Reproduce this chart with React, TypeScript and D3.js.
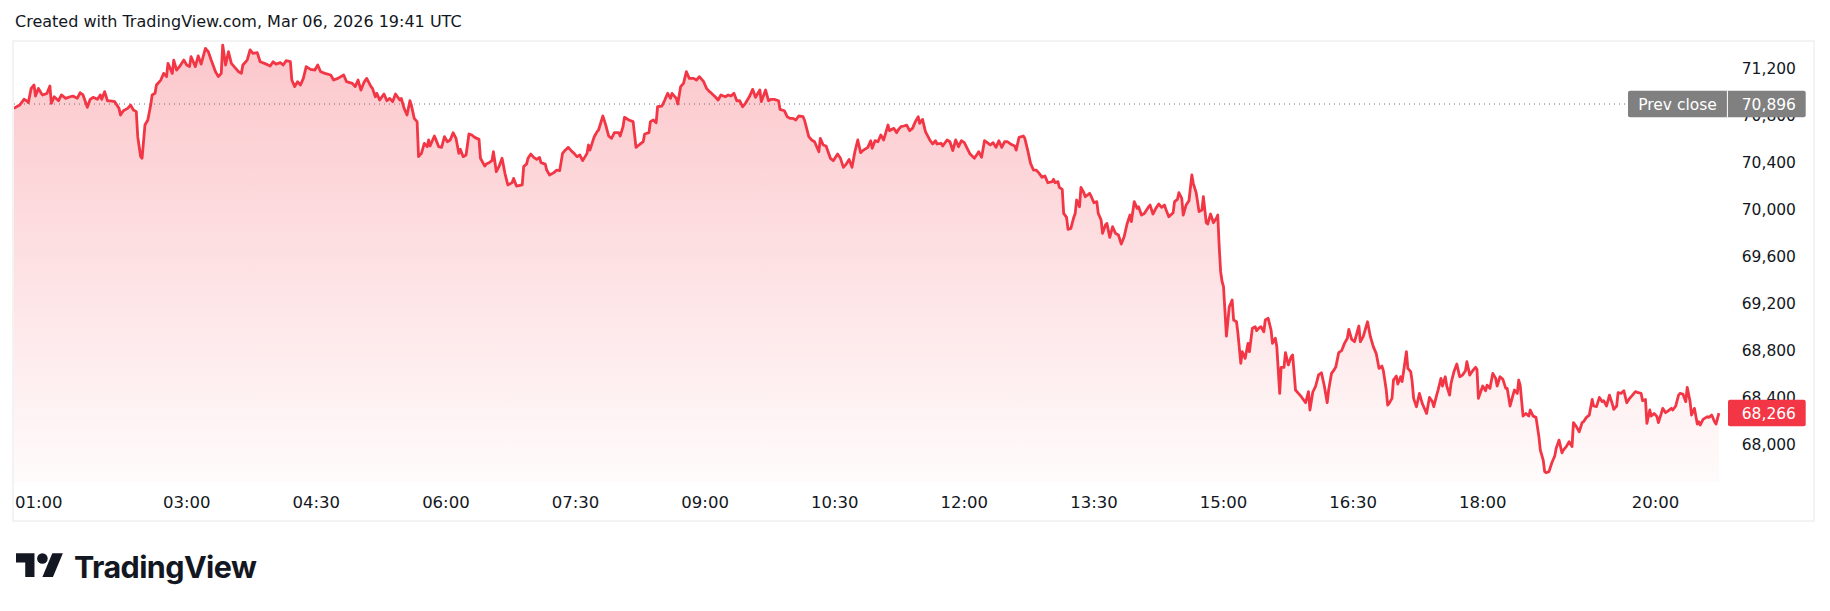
import React from "react";
import * as d3 from "d3";

// ---- data (minutes of day, price) ----
const minutes: number[] = [
  60,64,67,69,70,72,74,75,77,79,80,83,85,86,88,91,93,96,99,101,104,106,108,111,113,115,118,120,121,123,125,127,130,133,134,136,139,141,143,145,146,148,149,151,153,155,156,158,159,162,164,166,167,170,171,173,175,178,180,182,183,186,188,190,193,195,197,200,202,204,205,207,209,211,214,216,218,219,222,224,226,229,231,234,238,240,242,245,247,249,252,253,255,257,259,261,263,266,269,271,273,276,280,282,285,289,291,295,297,299,
  301,303,305,308,309,311,312,314,317,319,321,323,325,328,329,331,333,335,336,338,340,341,343,345,347,348,349,352,353,355,357,359,361,363,365,367,369,370,372,374,376,378,380,383,384,387,388,390,392,393,395,397,399,401,403,406,407,409,413,414,416,417,419,421,423,425,426,429,430,432,435,437,439,441,443,445,447,449,451,453,455,458,459,460,463,465,466,469,471,473,475,477,480,481,483,484,487,490,492,494,497,498,501,502,504,506,507,510,512,514,516,517,520,521,523,525,527,529,532,534,536,
  539,541,543,544,547,549,551,554,556,558,560,562,564,566,568,571,573,575,578,579,582,584,586,588,591,592,595,597,599,601,603,605,608,609,612,614,616,619,620,622,624,627,629,632,634,636,638,640,642,644,646,648,650,653,655,656,658,660,662,664,667,668,671,673,674,676,678,680,682,684,686,688,689,691,693,696,698,700,701,704,705,708,710,712,714,716,718,720,722,724,727,729,730,732,734,736,738,740,742,744,746,748,750,752,755,756,758,761,762,764,766,768,770,772,
  774,776,778,781,782,783,785,786,788,789,791,792,794,796,797,798,800,801,803,804,807,808,810,812,813,815,816,818,819,821,823,825,827,829,831,833,835,836,838,840,841,843,845,848,849,851,853,855,857,859,860,862,865,866,868,869,871,872,874,876,878,879,881,883,885,886,888,889,891,893,895,896,897,898,899,900,902,904,906,907,909,910,912,913,915,917,918,920,922,923,925,926,928,929,931,933,934,936,937,939,940,942,943,945,947,948,950,952,954,957,959,960,962,964,966,968,970,972,973,975,977,978,980,982,984,986,987,989,991,994,995,997,1000,1002,1004,1006,1008,
  1010,1011,1013,1014,1015,1017,1018,1020,1021,1023,1024,1025,1027,1028,1030,1031,1032,1034,1036,1038,1039,1041,1043,1045,1046,1048,1049,1051,1052,1054,1055,1057,1058,1060,1062,1064,1066,1068,1069,1071,1073,1075,1076,1077,1079,1080,1082,1083,1085,1087,1089,1090,1092,1094,1096,1097,1099,1101,1102,1104,1105,1106,1108,1110,1112,1113,1115,1117,1119,1120,1122,1123,1124,1126,1128,1130,1131,1133,1135,1136,1138,1140,1142,1143,1145,1147,1149,1150,1152,1154,1156,1157,1159,1161,1163,1164,1166,1168,1170,1171,1173,1174,1176,1178,1180,1182,1184,1186,1188,1190,1191,1193,1194,1196,1197,1199,1201,1202,1204,1205,1207,1209,1211,1212,1214,1216,1217,1219,1221,1222,1224,1225,1227,1229,1230,1231,1233,1236,1237,1239,1241,1242,1244,
];

const prices: number[] = [
  70859,70887,70936,70922,70907,71029,71058,70964,71029,70987,70973,70987,71049,70902,70958,70924,70973,70944,70958,70964,70944,70992,70973,70868,70936,70953,70936,70973,70936,71001,70924,70922,70916,70859,70802,70839,70859,70887,70845,70831,70618,70448,70434,70717,70760,70887,70973,70987,71058,71100,71157,71129,71242,71157,71270,71185,71214,71270,71228,71214,71299,71214,71305,71236,71370,71341,71270,71171,71129,71157,71398,71228,71341,71242,71200,71171,71157,71228,71270,71356,71327,71333,71256,71242,71219,71256,71236,71248,71228,71265,71256,71100,71044,71086,71058,71114,71214,71191,71185,71228,71171,71157,71143,71100,71114,71143,71086,71072,71044,71100,
  71015,71078,71114,71044,71029,70958,70987,70930,70981,70924,70944,70916,70981,70930,70944,70859,70802,70924,70887,70774,70746,70448,70476,70561,70533,70590,70539,70624,70595,70533,70527,70618,70575,70590,70652,70604,70476,70510,70448,70462,70641,70632,70612,70595,70434,70368,70385,70397,70414,70490,70320,70368,70434,70306,70207,70227,70263,70198,70207,70363,70385,70434,70470,70442,70425,70442,70397,70385,70334,70292,70312,70334,70329,70476,70505,70527,70499,70476,70448,70462,70414,70476,70547,70504,70618,70661,70675,70794,70717,70624,70604,70652,70652,70624,70703,70783,70760,70746,70527,70547,70575,70641,70652,70746,70760,70737,70873,70879,70930,70987,70944,70987,70944,70896,71044,71072,71171,71114,71114,71100,71129,
  71086,71029,71001,70992,70958,70930,70973,70958,70973,70964,70987,70924,70924,70873,70902,70964,71021,70953,71015,70916,71015,70924,70936,70936,70924,70851,70839,70788,70774,70774,70760,70794,70788,70760,70618,70590,70575,70490,70604,70547,70539,70434,70414,70470,70434,70357,70385,70425,70357,70490,70590,70482,70504,70527,70584,70519,70584,70575,70632,70590,70717,70669,70689,70652,70675,70703,70709,70717,70669,70689,70746,70788,70731,70765,70661,70590,70556,70584,70556,70561,70539,70590,70575,70499,70590,70533,70584,70567,70519,70470,70434,70470,70490,70442,70584,70567,70547,70567,70527,70584,70527,70575,70575,70556,70539,70504,70612,70624,70604,70504,70391,70334,70334,70306,
  70272,70283,70226,70235,70255,70226,70235,70187,70170,69965,69931,69829,69838,69931,69965,70079,70022,70187,70141,70107,70136,70113,70056,70065,69965,69909,69795,69866,69880,69761,69852,69795,69781,69704,69767,69875,69951,69895,70065,70008,70022,69951,69965,70022,70036,69960,70008,70045,70017,70036,69999,69937,69971,70065,70085,70141,70093,69951,70036,70073,70292,70221,70141,69980,69994,70107,69886,69875,69960,69886,69923,69951,69682,69469,69384,69341,68921,69171,69228,69058,69043,68944,68689,68788,68731,68859,68788,68987,69001,68967,68995,69001,68958,69058,69072,68973,68859,68902,68831,68434,68655,68655,68780,68675,68746,68760,68462,68434,68405,68354,68448,68292,68445,68496,68590,68609,68496,68354,68462,68604,68638,68660,68780,68797,68859,68902,68978,68893,68873,69007,68873,68916,69043,68916,68831,68774,68646,
  68666,68626,68462,68334,68348,68391,68547,68581,68513,68575,68533,68618,68788,68646,68618,68533,68391,68320,68433,68348,68320,68263,68399,68363,68320,68419,68462,68561,68496,68575,68496,68419,68519,68618,68683,68575,68589,68626,68703,68589,68626,68655,68638,68391,68462,68496,68456,68504,68476,68604,68561,68496,68575,68553,68476,68476,68326,68419,68462,68433,68547,68504,68240,68263,68240,68292,68240,68229,68065,67951,67866,67767,67758,67767,67843,67900,67965,68036,67928,67951,67980,68022,67980,68184,68150,68107,68184,68192,68229,68249,68382,68326,68320,68399,68363,68371,68326,68419,68343,68297,68326,68439,68433,68456,68354,68391,68419,68448,68439,68433,68371,68382,68178,68292,68240,68263,68235,68184,68263,68306,68269,68286,68306,68292,68326,68419,68433,68428,68363,68485,68363,68249,68306,68172,68192,68164,68212,68235,68229,68249,68192,68172,68266,
];

const priceTicks: number[] = [68000, 68400, 68800, 69200, 69600, 70000, 70400, 70800, 71200];
const timeTickLabels: string[] = ["01:00", "03:00", "04:30", "06:00", "07:30", "09:00", "10:30", "12:00", "13:30", "15:00", "16:30", "18:00", "20:00"];
const prevClose = 70896;
const titleText = "Created with TradingView.com, Mar 06, 2026 19:41 UTC";

const RED = "#F23645";
const TEXT = "#131722";
const FONT = "'DejaVu Sans', sans-serif";

export default function App() {
  const W = 1830, H = 611;
  const paneBottom = 482;
  const x = d3.scaleLinear().domain(d3.extent(minutes) as [number, number]).range([13.9, 1718.9]);
  const y = d3.scaleLinear().domain([68000, 71200]).range([444.3, 68.3]);
  const pts: [number, number][] = minutes.map((m, i) => [m, prices[i]]);
  const line = d3.line<[number, number]>().x(d => x(d[0])).y(d => y(d[1]));
  const area = d3.area<[number, number]>().x(d => x(d[0])).y0(paneBottom).y1(d => y(d[1]));
  const fmt = d3.format(",");
  const last = prices[prices.length - 1];
  const toMin = (s: string) => { const [h, m] = s.split(":").map(Number); return h * 60 + m; };

  return (
    <svg width={W} height={H} style={{ position: "absolute", left: 0, top: 0, background: "#fff" }} fontFamily={FONT}>
      <defs>
        <linearGradient id="fillG" gradientUnits="userSpaceOnUse" x1="0" y1="45" x2="0" y2={paneBottom}>
          <stop offset="0" stopColor={RED} stopOpacity={0.28} />
          <stop offset="1" stopColor={RED} stopOpacity={0.02} />
        </linearGradient>
        <clipPath id="paneClip"><rect x={14} y={42} width={1712} height={paneBottom - 42} /></clipPath>
      </defs>
      <rect x={0} y={0} width={W} height={H} fill="#fff" />
      <text x={15} y={27} fontSize={16} fill={TEXT}>{titleText}</text>
      <rect x={13} y={41} width={1801} height={480} fill="none" stroke="#EFEFEF" strokeWidth={1.5} />

      <g clipPath="url(#paneClip)">
        <path d={area(pts) || ""} fill="url(#fillG)" />
        <line x1={14} x2={1628} y1={y(prevClose)} y2={y(prevClose)} stroke="#6A6D78" strokeWidth={1} strokeDasharray="1 4" />
        <path d={line(pts) || ""} fill="none" stroke={RED} strokeWidth={2.8} strokeLinejoin="round" />
      </g>

      {/* price axis */}
      {priceTicks.map(v => (
        <text key={v} x={1796} y={y(v)} dy="0.36em" textAnchor="end" fontSize={15.5} fill={TEXT}>{fmt(v)}</text>
      ))}

      {/* prev close label */}
      <g>
        <rect x={1628} y={y(prevClose) - 13.3} width={177.7} height={26.6} rx={2} fill="#808080" />
        <line x1={1727.4} x2={1727.4} y1={y(prevClose) - 13.3} y2={y(prevClose) + 13.3} stroke="#fff" strokeWidth={1} />
        <text x={1677.5} y={y(prevClose)} dy="0.36em" textAnchor="middle" fontSize={15.5} fill="#fff">Prev close</text>
        <text x={1796} y={y(prevClose)} dy="0.36em" textAnchor="end" fontSize={15.5} fill="#fff">{fmt(prevClose)}</text>
      </g>

      {/* last price label */}
      <g>
        <rect x={1728} y={y(last) - 13.3} width={77.7} height={26.6} rx={2} fill={RED} />
        <text x={1796} y={y(last)} dy="0.36em" textAnchor="end" fontSize={15.5} fill="#fff">{fmt(last)}</text>
      </g>

      {/* time axis */}
      {timeTickLabels.map(s => {
        const px = x(toMin(s));
        const atEdge = px < 40;
        return (
          <text key={s} x={atEdge ? 15 : px} y={508} textAnchor={atEdge ? "start" : "middle"} fontSize={16.5} fill={TEXT}>{s}</text>
        );
      })}

      {/* TradingView logo */}
      <g transform="translate(16,548) scale(1.32)" fill={TEXT}>
        <path d="M14 22H7V11H0V4h14v18zM28 22h-8l7.5-18h8L28 22z" />
        <circle cx={20} cy={8} r={4} />
      </g>
      <text x={74} y={578} fontSize={30.5} fontWeight={700} fontFamily="Inter, sans-serif" fill={TEXT} letterSpacing={-0.6}>TradingView</text>
    </svg>
  );
}
